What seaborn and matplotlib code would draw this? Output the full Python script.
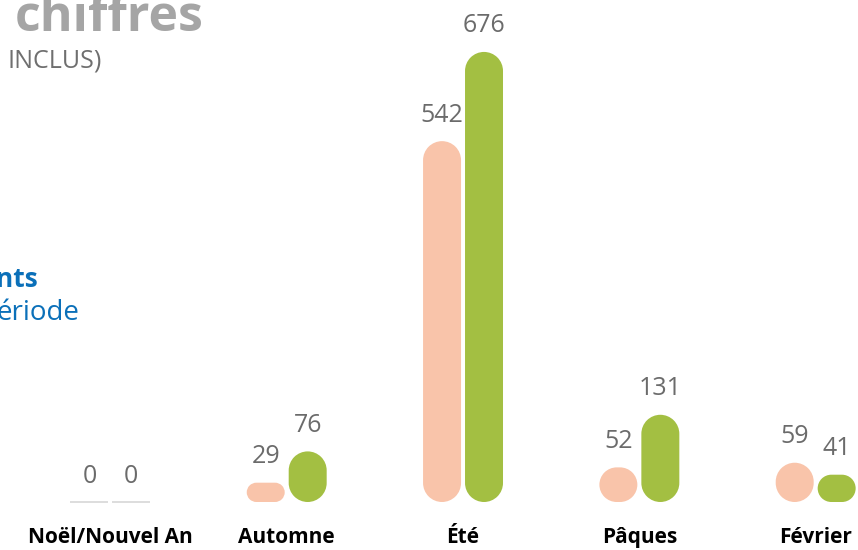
import matplotlib
matplotlib.use("Agg")
import matplotlib.pyplot as plt
from matplotlib.patches import PathPatch, Rectangle
from matplotlib.path import Path
from matplotlib.transforms import IdentityTransform
import numpy as np
import pandas as pd
import seaborn as sns

# ---------------------------------------------------------------------------
# DATA
# ---------------------------------------------------------------------------
periods = ["Noël/Nouvel An", "Automne", "Été", "Pâques", "Février"]
previous = [0, 29, 542, 52, 59]
current = [0, 76, 676, 131, 41]

ORANGE = "#F9C4AA"
GREEN = "#A3BF42"
ZERO_GREY = "#DDDDDD"
VALUE_GREY = "#6B6B6B"

df = pd.DataFrame({
    "Période": periods * 2,
    "Série": ["précédente"] * len(periods) + ["actuelle"] * len(periods),
    "Valeur": previous + current,
})

sns.set_theme(style="white")
plt.rcParams["font.family"] = ["Open Sans", "DejaVu Sans"]

W, H = 858, 550
fig = plt.figure(figsize=(W / 100, H / 100), dpi=100)
ax = fig.add_axes([0, 48 / H, 1, 502 / H])

sns.barplot(
    data=df, x="Période", y="Valeur", hue="Série",
    palette=[ORANGE, GREEN], saturation=1, width=0.476, gap=0.095,
    errorbar=None, legend=False, ax=ax,
)
ax.set_xlim(-0.626, 4.240)
ax.set_ylim(0, 754)


def pill_path(x0, y0, w, h):
    """Rounded bar outline (radius = half the smaller side), pixel space."""
    r = min(w, h) / 2
    x1, y1 = x0 + w, y0 + h
    verts, codes = [], []
    for cx, cy, t1, t2 in [(x1 - r, y0 + r, -90, 0), (x1 - r, y1 - r, 0, 90),
                           (x0 + r, y1 - r, 90, 180), (x0 + r, y0 + r, 180, 270)]:
        arc = Path.arc(t1, t2)
        v = arc.vertices * r + np.array([cx, cy])
        c = arc.codes.copy()
        if verts:
            c[0] = Path.LINETO
        verts.extend(v.tolist())
        codes.extend(c.tolist())
    verts.append(verts[0])
    codes.append(Path.CLOSEPOLY)
    return Path(verts, codes)


# --- turn the plain bars into pills ---
for p in list(ax.patches):
    x0, y0, w, h = p.get_x(), p.get_y(), p.get_width(), p.get_height()
    px0, py0 = ax.transData.transform((x0, y0))
    px1, py1 = ax.transData.transform((x0 + w, y0 + h))
    pw, ph = px1 - px0, py1 - py0
    p.set_visible(False)
    if ph < 1:
        fig.add_artist(Rectangle((px0, py0 - 1), pw, 2, facecolor=ZERO_GREY,
                                 edgecolor="none", transform=IdentityTransform()))
    else:
        fig.add_artist(PathPatch(pill_path(px0, py0, pw, ph),
                                 facecolor=p.get_facecolor(), edgecolor="none",
                                 transform=IdentityTransform()))
    ax.annotate(f"{int(round(h))}", xy=(x0 + w / 2, h), xytext=(0, 14),
                textcoords="offset points", ha="center", va="baseline",
                fontsize=18, color=VALUE_GREY)

ax.set_xticks(range(len(periods)))
ax.set_xticklabels(periods, fontsize=15, fontweight="bold", color="black")
ax.tick_params(axis="x", length=0, pad=18)
ax.set_yticks([])
ax.set_xlabel("")
ax.set_ylabel("")
for s in ax.spines.values():
    s.set_visible(False)
ax.patch.set_alpha(0)

# --- surrounding infographic text (cropped in the reference) ---
fig.text(15 / W, 1 - 31 / H, "chiffres", fontsize=36, fontweight="bold",
         color="#A5A5A5", ha="left", va="baseline")
fig.text(8 / W, 1 - 68 / H, "INCLUS)", fontsize=18, color="#6F6F6F",
         ha="left", va="baseline")
fig.text(-4 / W, 1 - 287 / H, "nts", fontsize=19, fontweight="bold",
         color="#0B70B9", ha="left", va="baseline")
fig.text(-3 / W, 1 - 320 / H, "ériode", fontsize=20, color="#0B70B9",
         ha="left", va="baseline")

fig.savefig("out.png", dpi=100)
